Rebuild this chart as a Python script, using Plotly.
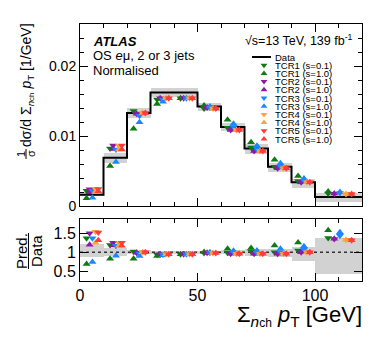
import plotly.graph_objects as go

W, H = 382, 346
L, R, T, B = 80, 20, 24, 65

# bin edges in GeV
edges = [0, 10, 20, 30, 40, 50, 60, 70, 80, 90, 100, 120]

# normalised data, 1/GeV
data = [0.0016, 0.0069, 0.0133, 0.0162, 0.0162, 0.0142, 0.0113, 0.0082, 0.0056, 0.0034, 0.0013]
# relative uncertainty band (lower / upper edge, ratio to data)
band_lo = [0.88, 0.90, 0.95, 0.96, 0.96, 0.96, 0.95, 0.91, 0.88, 0.77, 0.42]
band_hi = [1.23, 1.10, 1.05, 1.04, 1.04, 1.04, 1.05, 1.08, 1.09, 1.13, 1.38]

# Pred./Data for each prediction
tcr1_s01 = [1.37, 1.19, 1.02, 0.94, 0.95, 0.98, 0.99, 1.02, 1.00, 1.05, 1.38]
tcr1_s10 = [0.69, 0.83, 0.83, 0.90, 0.95, 1.01, 1.09, 1.11, 1.18, 1.26, 1.58]
tcr2_s01 = [1.50, 1.25, 0.99, 0.95, 0.95, 0.99, 0.96, 0.96, 0.96, 1.00, 1.35]
tcr2_s10 = [1.20, 1.18, 0.99, 0.95, 0.95, 0.99, 0.96, 0.96, 0.96, 1.00, 1.36]
tcr3_s01 = [1.37, 1.17, 0.97, 0.94, 0.95, 0.99, 1.00, 0.99, 1.00, 1.07, 1.44]
tcr3_s10 = [0.74, 0.91, 0.90, 0.92, 0.95, 1.00, 1.04, 1.05, 1.09, 1.16, 1.53]
tcr4_s01 = [1.54, 1.24, 1.00, 0.95, 0.95, 0.98, 0.96, 0.96, 0.96, 1.00, 1.33]
tcr4_s10 = [1.25, 1.17, 1.00, 0.95, 0.95, 0.98, 0.96, 0.96, 0.96, 1.00, 1.33]
tcr5_s01 = [1.52, 1.25, 1.00, 0.95, 0.95, 0.98, 0.96, 0.96, 0.96, 1.00, 1.32]
tcr5_s10 = [1.32, 1.17, 1.00, 0.95, 0.95, 0.98, 0.96, 0.96, 0.96, 1.00, 1.32]

green, purple, blue, orange, red = "#0e7a12", "#8e18a8", "#1b86ff", "#ffa340", "#ff3c3c"

# (label, ratio values, colour, symbol, position inside the bin)
series = [
    ("TCR1 (s=0.1)", tcr1_s01, green, "triangle-down", 0.28),
    ("TCR1 (s=1.0)", tcr1_s10, green, "triangle-up", 0.28),
    ("TCR2 (s=0.1)", tcr2_s01, purple, "triangle-down", 0.41),
    ("TCR2 (s=1.0)", tcr2_s10, purple, "triangle-up", 0.41),
    ("TCR3 (s=0.1)", tcr3_s01, blue, "triangle-down", 0.53),
    ("TCR3 (s=1.0)", tcr3_s10, blue, "triangle-up", 0.53),
    ("TCR4 (s=0.1)", tcr4_s01, orange, "triangle-down", 0.66),
    ("TCR4 (s=1.0)", tcr4_s10, orange, "triangle-up", 0.66),
    ("TCR5 (s=0.1)", tcr5_s01, red, "triangle-down", 0.78),
    ("TCR5 (s=1.0)", tcr5_s10, red, "triangle-up", 0.78),
]


def px_x(px):
    return (px - L) / (W - L - R)


def px_y(py):
    return (H - B - py) / (H - T - B)


FONT = "Liberation Sans, Arial, Helvetica, sans-serif"
centers = [(a + b) / 2 for a, b in zip(edges[:-1], edges[1:])]
widths = [b - a for a, b in zip(edges[:-1], edges[1:])]

fig = go.Figure()

# uncertainty bands
fig.add_bar(x=centers, width=widths, base=[d * l for d, l in zip(data, band_lo)],
            y=[d * (h - l) for d, l, h in zip(data, band_lo, band_hi)],
            marker=dict(color="#d2d2d2", line=dict(width=0)), xaxis="x", yaxis="y")
fig.add_bar(x=centers, width=widths, base=band_lo,
            y=[h - l for l, h in zip(band_lo, band_hi)],
            marker=dict(color="#d2d2d2", line=dict(width=0)), xaxis="x2", yaxis="y2")

# data histogram
fig.add_scatter(x=edges, y=data + [data[-1]], mode="lines", line=dict(color="black", width=2, shape="hv"),
                xaxis="x", yaxis="y")
fig.add_scatter(x=[edges[0], edges[-1]], y=[1, 1], mode="lines",
                line=dict(color="#333333", width=1.5, dash="dot"), xaxis="x2", yaxis="y2")

for name, ratio, col, sym, frac in series:
    xs = [a + frac * w for a, w in zip(edges[:-1], widths)]
    fig.add_scatter(x=xs, y=[r * d for r, d in zip(ratio, data)], mode="markers",
                    marker=dict(symbol=sym, color=col, size=7, line=dict(width=0)),
                    xaxis="x", yaxis="y", name=name)
    fig.add_scatter(x=xs, y=ratio, mode="markers",
                    marker=dict(symbol=sym, color=col, size=7, line=dict(width=0)),
                    xaxis="x2", yaxis="y2", name=name)

# hand-made legend on an overlay axis (plotly legend rows are too tall)
main_top, main_bot = 24, 206
leg_x, leg_text_x, leg_y0, leg_dy = 264, 274, 57, 8.2


def lx(px):
    return (px - L) / (W - L - R)


def ly(py):
    return (main_bot - py) / (main_bot - main_top)


annotations = []
fig.add_scatter(x=[lx(252), lx(271)], y=[ly(leg_y0), ly(leg_y0)], mode="lines",
                line=dict(color="black", width=2), xaxis="x3", yaxis="y3")
annotations.append(dict(x=px_x(leg_text_x), y=px_y(leg_y0), xref="paper", yref="paper", text="Data",
                        showarrow=False, xanchor="left", yanchor="middle", borderpad=0,
                        font=dict(size=9.5, color="black", family=FONT)))
for i, (name, ratio, col, sym, frac) in enumerate(series):
    py = leg_y0 + leg_dy * (i + 1)
    fig.add_scatter(x=[lx(leg_x)], y=[ly(py)], mode="markers",
                    marker=dict(symbol=sym, color=col, size=6, line=dict(width=0)),
                    xaxis="x3", yaxis="y3")
    annotations.append(dict(x=px_x(leg_text_x), y=px_y(py), xref="paper", yref="paper", text=name,
                            showarrow=False, xanchor="left", yanchor="middle", borderpad=0,
                            font=dict(size=9.5, color="black", family=FONT)))


def txt(text, x, y, size, xanchor="left", yanchor="middle", angle=0):
    annotations.append(dict(x=px_x(x), y=px_y(y), xref="paper", yref="paper", text=text,
                            showarrow=False, xanchor=xanchor, yanchor=yanchor, textangle=angle,
                            borderpad=0, font=dict(size=size, color="black", family=FONT)))


txt("<b><i>ATLAS</i></b>", 92, 41, 13)
txt("OS <i>e</i>μ, 2 or 3 jets", 92, 55, 13)
txt("Normalised", 92, 70, 13)
txt("√s=13 TeV, 139 fb<sup>-1</sup>", 244, 40, 12.5)

# y title of the main panel
txt("dσ/d Σ<sub><i>n</i><span style='font-size:8px'>ch</span></sub> <i>p</i><sub>T</sub> [1/GeV]",
    27, 22, 14, xanchor="center", yanchor="top", angle=-90)
txt("1", 21, 154, 11, xanchor="center", angle=-90)
txt("σ", 31, 154, 11, xanchor="center", angle=-90)
# y title of the ratio panel
txt("Pred.", 21, 251, 15, xanchor="center", angle=-90)
txt("Data", 36, 251, 15, xanchor="center", angle=-90)
# x title
txt("Σ<sub><i>n</i><span style='font-size:12px'>ch</span></sub> <i>p</i><sub>T</sub> [GeV]",
    363, 301, 22, xanchor="right", yanchor="top")

shapes = [
    dict(type="line", xref="paper", yref="paper", x0=px_x(26), x1=px_x(26), y0=px_y(149), y1=px_y(159),
         line=dict(color="black", width=1)),
    dict(type="line", xref="paper", yref="paper", x0=px_x(28.5), x1=px_x(28.5), y0=px_y(233), y1=px_y(269),
         line=dict(color="black", width=1)),
]

axis_common = dict(showline=True, linecolor="black", linewidth=1, mirror="allticks", ticks="inside",
                   showgrid=False, zeroline=False, tickcolor="black", tickwidth=1,
                   tickfont=dict(family=FONT, color="black"))

fig.update_layout(
    width=W, height=H, margin=dict(l=L, r=R, t=T, b=B),
    paper_bgcolor="white", plot_bgcolor="white", showlegend=False, barmode="overlay",
    bargap=0,
    xaxis=dict(domain=[0, 1], anchor="y", range=[0, 120], tickvals=[0, 50, 100], ticklen=8,
               showticklabels=False, minor=dict(dtick=10, tick0=0, ticklen=4, ticks="inside", tickcolor="black"),
               **axis_common),
    yaxis=dict(domain=[px_y(206), 1], anchor="x", range=[0, 0.026], tickvals=[0, 0.01, 0.02],
               ticktext=["0", "0.01", "0.02"], ticklen=8,
               minor=dict(dtick=0.002, tick0=0, ticklen=4, ticks="inside", tickcolor="black"),
               **{**axis_common, "tickfont": dict(family=FONT, color="black", size=14)}),
    xaxis2=dict(domain=[0, 1], anchor="y2", range=[0, 120], tickvals=[0, 50, 100], ticktext=["0", "50", "100"],
                ticklen=8, minor=dict(dtick=10, tick0=0, ticklen=4, ticks="inside", tickcolor="black"),
                **{**axis_common, "tickfont": dict(family=FONT, color="black", size=16)}),
    yaxis2=dict(domain=[0, px_y(219)], anchor="x2", range=[0.24, 1.88], tickvals=[0.5, 1, 1.5],
                ticktext=["0.5", "1", "1.5"], ticklen=8,
                **{**axis_common, "tickfont": dict(family=FONT, color="black", size=16)}),
    xaxis3=dict(overlaying="x", anchor="y3", range=[0, 1], visible=False),
    yaxis3=dict(overlaying="y", anchor="x3", range=[0, 1], visible=False),
    annotations=annotations, shapes=shapes,
)

# page body has an 8px default margin; drop it so the figure sits at the window corner
fig.write_html("out.html", config={"displayModeBar": False},
               post_script="document.body.style.margin='0';document.body.style.overflow='hidden';")
